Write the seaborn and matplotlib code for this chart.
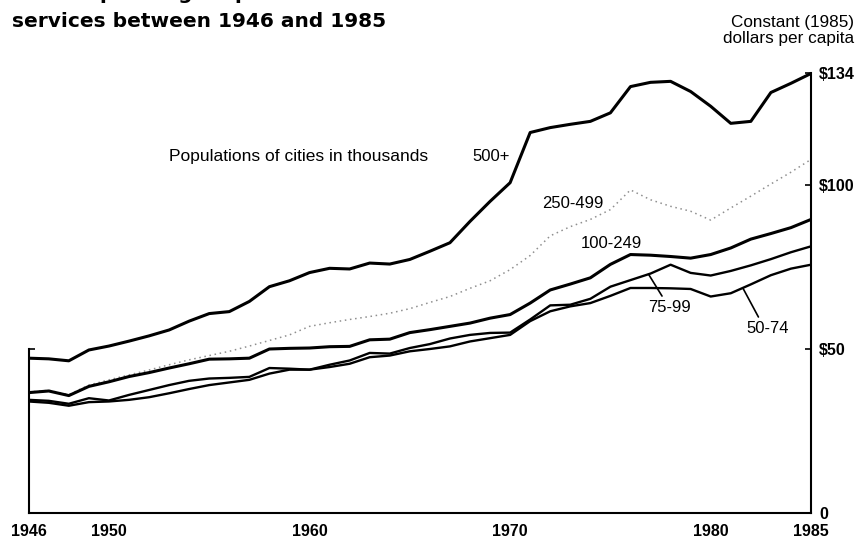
import numpy as np
import pandas as pd
import matplotlib
matplotlib.use("Agg")
import matplotlib.pyplot as plt
import seaborn as sns

# Per-capita police spending, constant 1985 dollars, by city size (thousands)
years = list(range(1946, 1986))

pop_500_plus = [47.2, 47.0, 46.4, 49.7, 50.9, 52.4, 54.0, 55.8, 58.5, 60.8,
                61.4, 64.5, 69.0, 70.8, 73.3, 74.6, 74.4, 76.2, 75.9, 77.3,
                79.8, 82.4, 88.9, 95.0, 100.7, 116.0, 117.5, 118.5, 119.4, 122.0,
                130.0, 131.3, 131.6, 128.5, 124.0, 118.8, 119.4, 128.2, 131.0, 134.0]

pop_250_499 = [36.9, 37.4, 36.1, 39.0, 40.6, 42.1, 43.6, 45.2, 46.7, 48.0,
               49.3, 50.9, 52.6, 54.3, 56.9, 58.0, 59.0, 59.9, 60.9, 62.3,
               64.2, 66.0, 68.5, 70.8, 74.2, 78.5, 84.5, 87.3, 89.5, 92.5,
               98.5, 95.5, 93.5, 92.0, 89.3, 93.0, 96.6, 100.3, 103.9, 107.8]

pop_100_249 = [36.7, 37.2, 35.8, 38.6, 40.0, 41.6, 42.8, 44.2, 45.5, 46.9,
               47.0, 47.2, 50.0, 50.2, 50.3, 50.7, 50.8, 52.8, 53.0, 55.0,
               55.9, 56.9, 57.9, 59.4, 60.5, 64.0, 68.0, 69.8, 71.7, 75.8,
               78.8, 78.6, 78.2, 77.7, 78.8, 80.8, 83.5, 85.2, 87.0, 89.5]

pop_75_99 = [34.5, 34.2, 33.3, 35.0, 34.3, 36.0, 37.5, 39.0, 40.3, 41.0,
             41.2, 41.5, 44.2, 44.0, 43.7, 45.2, 46.5, 48.8, 48.6, 50.3,
             51.5, 53.2, 54.3, 54.9, 55.0, 59.0, 63.3, 63.5, 65.3, 69.0,
             71.0, 73.0, 75.7, 73.2, 72.4, 73.8, 75.5, 77.4, 79.5, 81.3]

pop_50_74 = [34.0, 33.6, 32.7, 33.8, 34.0, 34.5, 35.3, 36.5, 37.8, 39.0,
             39.8, 40.6, 42.5, 43.7, 43.7, 44.5, 45.5, 47.5, 48.0, 49.3,
             50.0, 50.8, 52.3, 53.3, 54.3, 58.5, 61.5, 63.0, 64.0, 66.2,
             68.6, 68.6, 68.5, 68.3, 66.0, 67.0, 69.7, 72.5, 74.5, 75.7]

x_ticks = [1946, 1950, 1960, 1970, 1980, 1985]
y_ticks = [0, 50, 100, 134]
y_tick_labels = ["0", "$50", "$100", "$134"]

sns.set_style("white")
plt.rcParams["font.family"] = ["Liberation Sans", "DejaVu Sans"]
plt.rcParams["text.color"] = "black"

fig = plt.figure(figsize=(8.56, 5.40), dpi=100)
ax = fig.add_axes([28.7 / 856, 27 / 540, (811 - 28.7) / 856, (513 - 53.8) / 540])

df = pd.DataFrame({"year": years, "500+": pop_500_plus, "250-499": pop_250_499,
                   "100-249": pop_100_249, "75-99": pop_75_99, "50-74": pop_50_74})

styles = {
    "250-499": dict(color="#8f8f8f", linewidth=1.1, dashes=[(1, 2.4)]),
    "50-74": dict(color="black", linewidth=1.7, dashes=[""]),
    "75-99": dict(color="black", linewidth=1.7, dashes=[""]),
    "100-249": dict(color="black", linewidth=2.2, dashes=[""]),
    "500+": dict(color="black", linewidth=2.2, dashes=[""]),
}
for name, st in styles.items():
    sub = df[["year", name]].rename(columns={name: "value"}).assign(series=name)
    sns.lineplot(data=sub, x="year", y="value", style="series", ax=ax,
                 color=st["color"], linewidth=st["linewidth"],
                 dashes=st["dashes"], legend=False)

ax.set_xlim(1946, 1985)
ax.set_ylim(0, 140)
ax.set_xlabel("")
ax.set_ylabel("")

# axes frame: bottom full, right up to top value, left only to $50
ax.spines["top"].set_visible(False)
for side in ("left", "right", "bottom"):
    ax.spines[side].set_color("black")
    ax.spines[side].set_linewidth(1.5)
ax.spines["right"].set_bounds(0, 134)
ax.spines["left"].set_bounds(0, 50)

ax.set_xticks(x_ticks)
ax.set_xticklabels([str(v) for v in x_ticks])
ax.set_yticks(y_ticks)
ax.set_yticklabels(y_tick_labels)
ax.yaxis.set_ticks_position("both")
ax.tick_params(axis="y", which="major", direction="in", length=4, width=1.2,
               labelleft=False, labelright=True, pad=6, labelsize=11.5,
               colors="black")
ax.tick_params(axis="x", which="major", direction="in", length=5, width=1.2,
               pad=8, labelsize=11.5, colors="black")
for lab in ax.get_xticklabels() + ax.get_yticklabels():
    lab.set_fontweight("bold")

for t, v in zip(ax.xaxis.get_major_ticks(), x_ticks):
    if v in (1946, 1950, 1985):
        t.tick1line.set_visible(False)
for t, v in zip(ax.yaxis.get_major_ticks(), y_ticks):
    if v != 50:
        t.tick1line.set_visible(False)

# series labels
ax.text(1953.0, 108.7, "Populations of cities in thousands", fontsize=12.5,
        ha="left", va="center", color="black")
ax.text(1968.1, 108.7, "500+", fontsize=12, ha="left", va="center", color="black")
ax.text(1971.6, 94.4, "250-499", fontsize=12, ha="left", va="center", color="black")
ax.text(1973.5, 82.2, "100-249", fontsize=12, ha="left", va="center", color="black")

yr = np.array(years, dtype=float)
ax.annotate("75-99", xy=(1976.9, np.interp(1976.9, yr, pop_75_99)),
            xytext=(1976.9, 62.5), fontsize=12, ha="left", va="center",
            color="black",
            arrowprops=dict(arrowstyle="-", color="black", lw=1.2,
                            relpos=(0.38, 1.0), shrinkA=1, shrinkB=0))
ax.annotate("50-74", xy=(1981.6, np.interp(1981.6, yr, pop_50_74)),
            xytext=(1981.8, 56.1), fontsize=12, ha="left", va="center",
            color="black",
            arrowprops=dict(arrowstyle="-", color="black", lw=1.2,
                            relpos=(0.33, 1.0), shrinkA=1, shrinkB=0))

# headings
fig.text(11.7 / 856, 1 + 1 / 540, "Urban spending on police", fontsize=14.5,
         fontweight="bold", family="DejaVu Sans", ha="left", va="baseline",
         color="black")
fig.text(11.7 / 856, 1 - 26.7 / 540, "services between 1946 and 1985",
         fontsize=14.5, fontweight="bold", family="DejaVu Sans",
         ha="left", va="baseline", color="black")
fig.text(854 / 856, 1 - 27 / 540, "Constant (1985)", fontsize=12.3,
         ha="right", va="baseline", color="black")
fig.text(854 / 856, 1 - 42.5 / 540, "dollars per capita", fontsize=12.3,
         ha="right", va="baseline", color="black")

fig.savefig("out.png", dpi=100, facecolor="white")
